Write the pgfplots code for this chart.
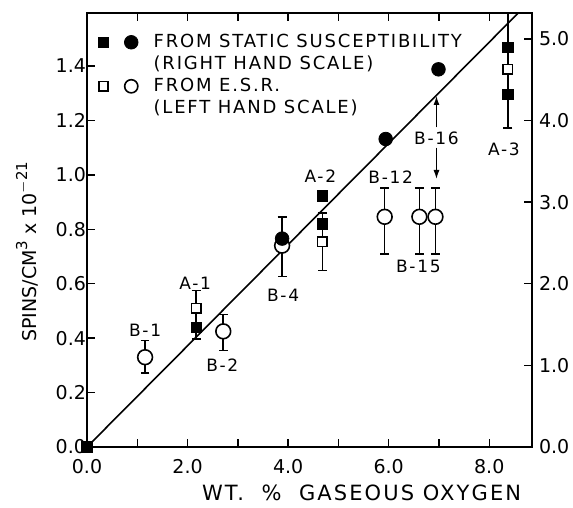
\documentclass[border=0pt]{standalone}
\usepackage{pgfplots}
\pgfplotsset{compat=1.18}
\usepackage{fontspec}
\setmainfont{DejaVu Sans}
\newfontfamily\wide{DejaVu Sans}[LetterSpace=10]
\usetikzlibrary{arrows.meta}
\newcommand\supr[1]{\raisebox{0.85ex}{\fontsize{7.5}{8}\selectfont #1}}

\begin{document}
\begin{tikzpicture}
\useasboundingbox (-43.5pt,-30.5pt) rectangle (243pt,223.5pt);
\pgfplotsset{
  every axis/.append style={
    scale only axis, width=222.5pt, height=217pt,
    at={(0,0)}, anchor=south west,
    xmin=0, xmax=8.85,
    axis line style={line width=0.9pt},
    tick style={line width=0.7pt, black},
    tick align=inside,
    major tick length=4pt, minor tick length=4pt,
    tick label style={font=\fontsize{9.5}{11}\selectfont},
    /pgf/number format/.cd, fixed, fixed zerofill, precision=1, assume math mode=true,
  },
}
\begin{axis}[
  clip mode=individual,
  ymin=0, ymax=1.595,
  ytick={0,0.2,0.4,0.6,0.8,1.0,1.2,1.4}, ytick pos=left,
  yticklabel style={xshift=3pt},
  xtick={0,2,4,6,8}, minor xtick={1,3,5,7}, xticklabel pos=lower,
  xticklabel style={yshift=-2.5pt},
  legend cell align=left,
  legend style={at={(0.01,0.968)}, anchor=north west, draw=none, fill=none,
    font=\wide\fontsize{9}{10}\selectfont, row sep=0pt, column sep=6.5pt,
    nodes={inner xsep=1pt, inner ysep=1.5pt, text height=6.5pt, text depth=1.5pt}},
]
% regression line
\addplot[line width=0.8pt, forget plot] coordinates {(0,0) (8.85,1.646)};
% E.S.R. (left hand scale), open circles
\addplot[only marks, mark=*, mark size=3.7pt, forget plot,
  mark options={fill=white, draw=black, line width=0.8pt},
  error bars/.cd, y dir=both, y explicit,
  error bar style={line width=0.8pt},
  error mark options={rotate=90, mark size=2.2pt, line width=0.8pt}]
  coordinates {
    (1.155,0.330) += (0,0.062) -= (0,0.059)
    (2.71,0.425)  += (0,0.062) -= (0,0.070)
    (3.88,0.740)  += (0,0.106) -= (0,0.114)
    (5.92,0.846)  += (0,0.106) -= (0,0.136)
    (6.61,0.846)  += (0,0.106) -= (0,0.136)
    (6.93,0.846)  += (0,0.106) -= (0,0.136)
  };
% E.S.R. (left hand scale), open squares
\addplot[only marks, mark=square*, mark size=2.4pt, forget plot,
  mark options={fill=white, draw=black, line width=0.8pt},
  error bars/.cd, y dir=both, y explicit,
  error bar style={line width=0.8pt},
  error mark options={rotate=90, mark size=2.2pt, line width=0.8pt}]
  coordinates {
    (2.17,0.509) += (0,0.066) -= (0,0.113)
    (4.68,0.755) += (0,0.106) -= (0,0.107)
    (8.37,1.388) += (0,0.220) -= (0,0.216)
  };
% sample labels
\begin{scope}[every node/.style={font=\wide\fontsize{8.5}{9}\selectfont}]
\node at (axis cs:1.155,0.43) {B-1};
\node at (axis cs:2.15,0.60) {A-1};
\node at (axis cs:2.69,0.30) {B-2};
\node at (axis cs:3.90,0.557) {B-4};
\node at (axis cs:4.64,0.996) {A-2};
\node at (axis cs:6.04,0.993) {B-12};
\node at (axis cs:6.95,1.135) {B-16};
\node at (axis cs:8.29,1.095) {A-3};
\node at (axis cs:6.59,0.663) {B-15};
\end{scope}
\draw[line width=0.6pt, -{Latex[length=4.5pt,width=3pt]}] (axis cs:6.95,1.10) -- (axis cs:6.95,0.985);
\draw[line width=0.6pt, -{Latex[length=4.5pt,width=3pt]}] (axis cs:6.95,1.175) -- (axis cs:6.95,1.29);
% legend
\addlegendimage{legend image code/.code={
  \fill (0pt,-2.6pt) rectangle (5.2pt,2.6pt);
  \fill (16.5pt,0pt) circle (3.4pt);}}
\addlegendentry{FROM STATIC SUSCEPTIBILITY}
\addlegendimage{empty legend}
\addlegendentry{(RIGHT HAND SCALE)}
\addlegendimage{legend image code/.code={
  \draw[line width=0.8pt] (0.3pt,-2.3pt) rectangle (4.9pt,2.3pt);
  \draw[line width=0.8pt] (16.5pt,0pt) circle (3.3pt);}}
\addlegendentry{FROM E.S.R.}
\addlegendimage{empty legend}
\addlegendentry{(LEFT HAND SCALE)}
% axis titles
\node[font=\wide\fontsize{10.5}{12}\selectfont] at (rel axis cs:0.617,-0.106) {WT.\ \ \%\ \ GASEOUS OXYGEN};
\node[font=\fontsize{9.5}{11}\selectfont, rotate=90] at (rel axis cs:-0.135,0.45)
  {SPINS/CM\supr{3} x 10\supr{$-$21}};
\end{axis}
\begin{axis}[
  ymin=0, ymax=5.317, clip=false,
  axis x line=none, axis y line*=right,
  ytick={0,1,2,3,4,5},
]
% static susceptibility (right hand scale), filled circles
\addplot[only marks, mark=*, mark size=3.4pt, black]
  coordinates {(3.88,2.553) (5.94,3.773) (6.99,4.627)};
% static susceptibility (right hand scale), filled squares
\addplot[only marks, mark=square*, mark size=2.6pt, black]
  coordinates {(0,0) (2.17,1.467) (4.68,2.733) (4.68,3.077) (8.37,4.897) (8.37,4.323)};
\end{axis}
\end{tikzpicture}
\end{document}
